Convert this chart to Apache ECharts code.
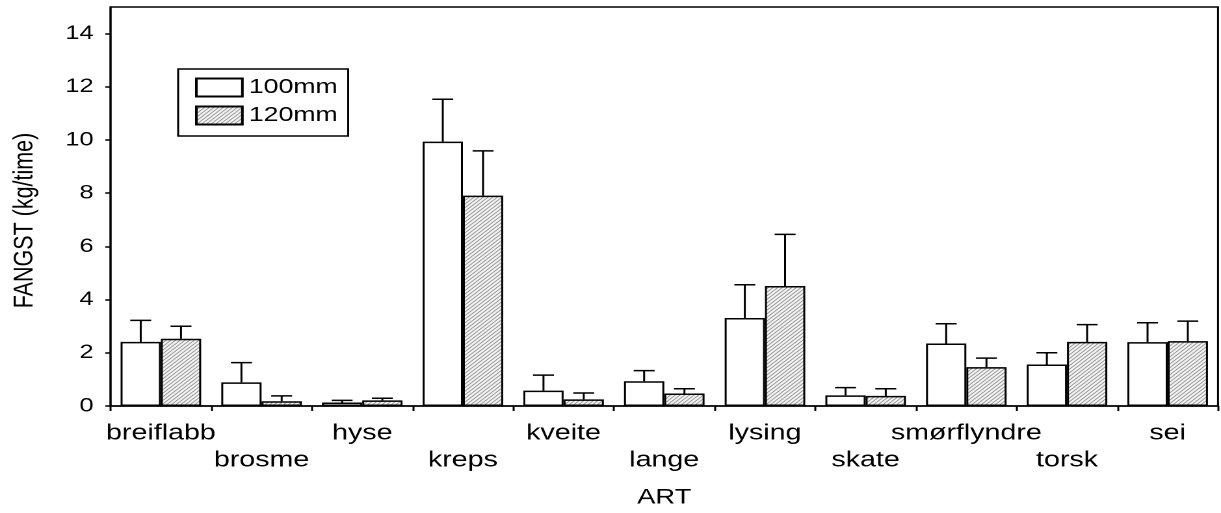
<!DOCTYPE html>
<html>
<head>
<meta charset="utf-8">
<script src="https://cdn.jsdelivr.net/npm/echarts@6/dist/echarts.min.js"></script>
<style>
html,body{margin:0;padding:0;background:#fff;overflow:hidden;}
#c{width:939px;height:513px;transform:scaleX(1.30032);transform-origin:0 0;}
</style>
</head>
<body>
<div id="c"></div>
<script>
const categories = ['breiflabb','brosme','hyse','kreps','kveite','lange','lysing','skate','smørflyndre','torsk','sei'];
const seriesNames = ['100mm','120mm'];
const mean100 = [2.41, 0.89, 0.13, 9.94, 0.58, 0.93, 3.31, 0.40, 2.35, 1.56, 2.40];
const upper100 = [3.22, 1.63, 0.21, 11.53, 1.16, 1.33, 4.56, 0.69, 3.09, 2.00, 3.13];
const mean120 = [2.53, 0.18, 0.21, 7.91, 0.25, 0.47, 4.51, 0.38, 1.46, 2.41, 2.44];
const upper120 = [3.00, 0.38, 0.29, 9.59, 0.49, 0.65, 6.45, 0.65, 1.80, 3.06, 3.19];
const yTicks = [0, 2, 4, 6, 8, 10, 12, 14];

const FONT = '"Liberation Sans", Arial, sans-serif';

// hatch pattern
const pc = document.createElement('canvas');
pc.width = 8; pc.height = 8;
const g = pc.getContext('2d');
g.fillStyle = '#f4f4f4';
g.fillRect(0, 0, 8, 8);
g.strokeStyle = '#7a7a7a';
g.lineWidth = 1.4;
[[-1, 1, 1, -1], [-1, 9, 9, -1], [7, 9, 9, 7]].forEach(function (l) {
  g.beginPath(); g.moveTo(l[0], l[1]); g.lineTo(l[2], l[3]); g.stroke();
});
const hatch = { image: pc, repeat: 'repeat', scaleX: 0.45, scaleY: 0.45 };

function errData(means, uppers) {
  return means.map(function (m, i) { return [i, m, uppers[i]]; });
}

function errRender(sign) {
  return function (params, api) {
    const cat = api.value(0);
    const base = api.coord([cat, api.value(1)]);
    const top = api.coord([cat, api.value(2)]);
    const cw = api.size([1, 0])[0];
    const bw = cw * 0.4;
    const cx = base[0] + sign * bw / 2;
    const hw = bw * 0.26;
    const st = { stroke: '#000', lineWidth: 1.5 };
    return {
      type: 'group',
      children: [
        { type: 'line', shape: { x1: cx, y1: base[1], x2: cx, y2: top[1] }, style: st },
        { type: 'line', shape: { x1: cx - hw, y1: top[1], x2: cx + hw, y2: top[1] }, style: st }
      ]
    };
  };
}

const chart = echarts.init(document.getElementById('c'), null, { devicePixelRatio: 2 });
chart.setOption({
  animation: false,
  backgroundColor: '#fff',
  textStyle: { fontFamily: FONT },
  grid: {
    left: 78.4, right: 2.3, top: 7, bottom: 106,
    show: true, borderColor: '#000', borderWidth: 1.5, backgroundColor: 'transparent'
  },
  legend: {
    data: seriesNames,
    orient: 'vertical',
    left: 137, top: 69,
    padding: [8, 8, 10, 13],
    itemGap: 7,
    itemWidth: 35.4, itemHeight: 18,
    icon: 'rect',
    borderColor: '#000', borderWidth: 1.5,
    backgroundColor: '#fff',
    textStyle: { fontSize: 20.5, color: '#000', fontFamily: FONT, padding: [0, 0, 0, 0] }
  },
  xAxis: {
    type: 'category',
    data: categories,
    boundaryGap: true,
    name: 'ART',
    nameLocation: 'middle',
    nameGap: 81,
    nameTextStyle: { fontSize: 21, color: '#000', fontFamily: FONT },
    axisLine: { lineStyle: { color: '#000', width: 1.5 } },
    axisTick: { show: true, inside: false, length: 5, interval: 0, lineStyle: { color: '#000', width: 1.5 } },
    axisLabel: {
      interval: 0, margin: 14, fontSize: 22, lineHeight: 27, color: '#000', fontFamily: FONT,
      formatter: function (v, i) { return i % 2 ? '\n' + v : v; }
    },
    splitLine: { show: false }
  },
  yAxis: {
    type: 'value',
    min: 0, max: 15, interval: 2,
    name: 'FANGST (kg/time)',
    nameLocation: 'middle',
    nameGap: 55,
    nameTextStyle: { fontSize: 21.5, color: '#000', fontFamily: FONT, padding: [0, 28, 0, 0] },
    axisLine: { show: true, lineStyle: { color: '#000', width: 1.5 } },
    axisTick: { show: true, inside: false, length: 4, customValues: yTicks, lineStyle: { color: '#000', width: 1.5 } },
    axisLabel: { margin: 13, fontSize: 19.5, color: '#000', fontFamily: FONT, customValues: yTicks },
    splitLine: { show: false }
  },
  series: [
    {
      name: seriesNames[0], type: 'bar', data: mean100,
      barGap: '0%', barCategoryGap: '20%',
      itemStyle: { color: '#fff', borderColor: '#000', borderWidth: 1.5 },
      z: 2
    },
    {
      name: seriesNames[1], type: 'bar', data: mean120,
      barGap: '0%', barCategoryGap: '20%',
      itemStyle: { color: hatch, borderColor: '#000', borderWidth: 1.5 },
      z: 2
    },
    {
      type: 'custom', renderItem: errRender(-1), data: errData(mean100, upper100),
      encode: { x: 0, y: [1, 2] }, z: 3, silent: true
    },
    {
      type: 'custom', renderItem: errRender(1), data: errData(mean120, upper120),
      encode: { x: 0, y: [1, 2] }, z: 3, silent: true
    }
  ]
});
</script>
</body>
</html>
